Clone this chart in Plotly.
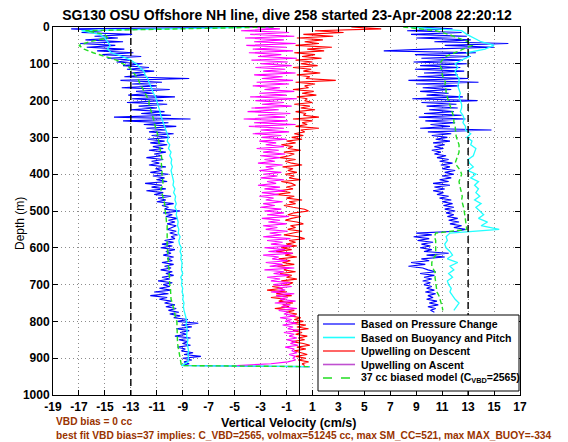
import plotly.graph_objects as go

# ---------------- data ----------------
# descent profiles, 0..920 m
desc_depth_5 = list(range(0, 925, 5))
desc_depth_10 = list(range(0, 925, 10))
# ascent profiles, 0..775 m
asc_depth_5 = list(range(0, 780, 5))
asc_depth_10 = list(range(0, 780, 10))

bottom_depth = 923
bottom_speed = 0.8

blue_desc = [
    -2.0, -17.6, -15.2, -16.8, -12.9, -15.8, -14.0, -16.5, -13.6, -16.9,
    -14.2, -16.4, -13.5, -15.6, -12.8, -15.2, -12.2, -14.8, -13.0, -14.1,
    -12.1, -13.6, -11.6, -13.3, -11.2, -13.0, -11.9, -13.5, -8.5, -13.8,
    -10.6, -12.9, -11.0, -13.7, -10.0, -12.6, -11.3, -13.2, -9.6, -12.9,
    -10.5, -13.3, -10.2, -12.4, -11.0, -13.0, -10.4, -12.2, -9.9, -14.3,
    -8.4, -13.6, -10.1, -12.0, -9.5, -11.8, -10.3, -11.6, -9.7, -11.4,
    -10.0, -11.7, -10.4, -11.5, -10.2, -11.3, -10.5, -11.6, -10.3, -11.2,
    -10.6, -11.8, -10.5, -11.4, -10.8, -11.6, -10.3, -11.1, -10.6, -11.5,
    -10.1, -11.3, -10.4, -11.0, -10.2, -11.9, -10.6, -11.4, -10.3, -11.8,
    -10.5, -11.2, -9.9, -10.9, -10.3, -11.0, -9.7, -10.6, -10.1, -10.4,
    -9.2, -10.5, -9.8, -10.3, -9.4, -10.1, -9.6, -10.2, -9.5, -9.9,
    -10.2, -9.5, -10.0, -9.4, -9.9, -9.6, -10.4, -9.7, -10.6, -9.8,
    -10.7, -9.6, -10.3, -9.9, -10.5, -9.7, -10.2, -9.8, -10.6, -9.7,
    -10.4, -9.9, -10.7, -9.8, -10.3, -9.7, -10.6, -10.0, -10.9, -9.8,
    -10.5, -10.0, -10.8, -9.9, -11.2, -10.1, -11.5, -10.2, -10.8, -9.9,
    -10.4, -9.6, -10.3, -9.5, -10.1, -9.3, -10.0, -9.2, -9.7, -8.6,
    -9.4, -7.8, -9.1, -8.3, -9.5, -8.5, -9.2, -8.7, -9.6, -8.4,
    -9.3, -8.6, -9.0, -8.4, -9.4, -8.8, -9.1, -8.2, -8.9, -7.6,
    -9.0, -8.3, -8.9, -8.5, -9.1,
]

cyan_desc = [
    -3.0, -16.8, -15.4, -15.0, -14.8, -14.6, -14.8, -14.5, -13.7, -13.0,
    -12.6, -12.3, -12.0, -11.9, -11.7, -11.6, -11.5, -11.35, -11.25, -11.1,
    -11.0, -10.9, -10.8, -10.75, -10.7, -10.6, -10.5, -10.45, -10.3, -10.2,
    -10.1, -10.2, -10.0, -10.1, -9.9, -10.0, -9.85, -9.9, -9.8, -9.9,
    -9.85, -9.8, -9.7, -9.75, -9.6, -9.7, -9.55, -9.6, -9.5, -9.6,
    -9.45, -9.5, -9.4, -9.35, -9.4, -9.3, -9.35, -9.2, -9.3, -9.25,
    -9.1, -9.2, -9.1, -9.15, -9.05, -9.1, -9.1, -9.0, -9.15, -9.05,
    -9.1, -9.0, -9.05, -8.95, -9.0, -8.9, -8.95, -8.9, -8.8, -8.75,
    -8.7, -8.75, -8.65, -8.7, -8.7, -8.6, -8.65, -8.6, -8.55, -8.6,
    -8.55, -8.6, -9.1,
]

green_desc = [
    -2.0, -16.5, -15.0, -14.8, -16.2, -17.0, -16.6, -15.9, -15.0, -14.1,
    -13.6, -13.1, -12.9, -12.7, -12.45, -12.35, -12.2, -12.0, -11.9, -11.7,
    -11.6, -11.6, -11.5, -11.45, -11.35, -11.25, -11.2, -11.1, -11.0, -10.95,
    -10.9, -10.85, -10.8, -10.75, -10.7, -10.65, -10.6, -10.65, -10.6, -10.6,
    -10.6, -10.55, -10.5, -10.5, -10.7, -10.6, -10.5, -10.45, -10.4, -10.4,
    -10.35, -10.3, -10.3, -10.25, -10.2, -10.2, -10.2, -10.25, -10.2, -10.2,
    -10.2, -10.15, -10.15, -10.1, -10.1, -10.1, -10.05, -10.05, -10.0, -10.0,
    -10.0, -9.95, -9.95, -9.9, -9.9, -9.8, -9.75, -9.7, -9.65, -9.55,
    -9.45, -9.45, -9.45, -9.4, -9.45, -9.45, -9.4, -9.35, -9.3, -9.2,
    -9.2, -9.15, -9.1,
]

blue_asc = [
    9.0, 11.8, 8.3, 12.5, 8.6, 12.9, 9.0, 13.2, 10.4, 16.1,
    11.2, 15.0, 9.8, 6.5, 13.6, 8.9, 13.2, 9.4, 12.6, 8.8,
    12.9, 9.3, 12.4, 8.9, 12.7, 9.6, 12.2, 9.1, 13.0, 8.4,
    13.8, 9.0, 12.3, 9.5, 11.7, 9.3, 11.5, 9.8, 12.6, 8.7,
    13.7, 9.4, 12.1, 9.8, 12.2, 10.0, 11.9, 9.6, 12.5, 9.2,
    12.8, 9.7, 12.0, 10.1, 11.6, 9.3, 14.8, 9.9, 11.7, 10.2,
    11.4, 10.5, 11.6, 10.3, 11.2, 10.4, 11.1, 10.2, 10.9, 10.4,
    11.3, 10.6, 11.5, 10.8, 11.8, 10.9, 11.6, 11.0, 12.0, 11.2,
    11.9, 11.0, 11.7, 10.8, 11.5, 10.3, 11.6, 10.4, 11.2, 10.3,
    11.1, 10.6, 11.5, 10.8, 11.7, 11.0, 11.8, 11.1, 11.9, 11.2,
    12.0, 11.3, 11.9, 11.4, 12.2, 11.5, 12.3, 11.6, 12.5, 11.9,
    12.8, 12.1, 9.0, 10.2, 8.8, 10.0, 9.1, 10.3, 9.4, 10.1,
    9.3, 10.2, 9.6, 11.5, 9.8, 11.2, 9.4, 10.0, 8.6, 9.7,
    8.4, 9.5, 9.9, 10.5, 9.3, 10.4, 9.6, 10.2, 9.5, 10.1,
    9.6, 10.2, 9.8, 10.4, 9.7, 10.5, 9.9, 10.3, 9.8, 10.6,
    10.0, 10.7, 9.9, 10.5, 10.1, 10.4,
]

cyan_asc = [
    8.5, 12.5, 12.9, 13.5, 14.0, 15.0, 14.3, 12.9, 13.1, 12.5,
    12.0, 12.2, 12.0, 12.1, 12.3, 12.3, 12.2, 12.3, 12.4, 12.3,
    12.4, 12.5, 12.5, 12.4, 12.6, 12.7, 12.6, 12.8, 12.8, 13.2,
    12.9, 13.3, 13.2, 13.6, 13.5, 13.4, 13.0, 13.1, 13.4, 13.0,
    13.6, 13.2, 13.8, 13.5, 13.8, 13.6, 13.9, 13.5, 14.0, 13.6,
    13.9, 14.2, 13.8, 14.5, 14.0, 15.4, 11.6, 11.3, 11.4, 11.2,
    11.3, 11.6, 11.8, 11.4, 12.2, 11.6, 11.9, 11.5, 11.8, 11.4,
    11.5, 11.7, 11.6, 11.8, 12.0, 12.3, 12.1, 11.9,
]

green_asc = [
    8.0, 10.5, 11.5, 12.3, 13.0, 13.3, 12.6, 12.0, 11.3, 11.0,
    10.8, 10.9, 11.0, 11.0, 11.1, 11.25, 11.2, 11.3, 11.3, 11.4,
    11.5, 11.55, 11.7, 11.8, 11.85, 11.9, 11.9, 12.0, 12.0, 12.05,
    12.1, 12.2, 12.3, 12.3, 12.3, 12.2, 12.1, 12.0, 12.2, 12.4,
    12.5, 12.4, 12.3, 12.35, 12.4, 12.5, 12.55, 12.5, 12.6, 12.65,
    12.7, 12.75, 12.8, 12.8, 12.85, 12.9, 10.5, 10.4, 10.5, 10.5,
    10.5, 10.45, 10.5, 10.3, 10.2, 10.2, 10.35, 10.5, 10.45, 10.5,
    10.5, 10.55, 10.6, 10.75, 10.85, 10.95, 11.0, 11.05,
]

red_upwelling = [
    4.0, 6.3, 1.2, 3.4, 0.3, 2.6, -0.2, 1.8, 0.4, 1.5,
    -0.3, 2.5, 0.6, 1.9, -0.4, 1.2, 0.2, 1.7, -0.3, 1.0,
    0.1, 1.4, -0.5, 0.9, 0.3, 1.6, -0.2, 0.8, 0.5, 2.8,
    -0.3, 1.2, 0.4, 0.7, -0.5, 1.1, 0.2, 1.3, -0.2, 0.6,
    0.4, 1.0, -0.4, 0.8, 0.1, 1.2, -0.3, 0.5, 0.3, 1.5,
    -0.5, 1.0, 0.2, 0.6, -0.3, 1.5, 0.1, 0.4, -0.4, 0.3,
    -0.6, 0.2, -1.0, -0.3, -1.4, -0.5, -0.9, 0.1, -1.2, -0.4,
    -0.8, -1.5, -0.3, -1.1, -0.6, 0.2, -1.3, -0.5, -0.9, -0.2,
    -1.1, -0.4, -0.8, 0.1, -1.4, -0.6, -0.3, -1.0, -0.5, -1.6,
    -0.7, -1.9, -0.4, -1.0, 0.2, -0.8, -0.3, -1.2, -0.5, 0.4,
    0.7, -0.4, -0.9, 0.1, -0.6, -1.1, -0.2, 0.3, -0.7, -0.3,
    -0.9, 0.2, -0.5, -1.2, -0.1, 0.4, -0.8, -0.3, -1.0, -0.2,
    -1.4, -0.6, -1.8, -0.5, -1.1, -0.2, -1.6, -0.7, -1.3, -0.4,
    -1.7, -0.8, -1.2, -0.3, -1.5, -0.6, -1.0, -0.2, -1.4, -0.5,
    -0.9, -2.1, -1.3, -2.5, -1.0, -1.8, -0.6, -2.2, -1.1, -1.6,
    -0.5, -1.3, -0.8, -1.9, -0.4, -1.0, -0.2, -0.7, 0.1, -0.4,
    0.3, -0.6, 0.5, -0.2, 0.7, -0.5, 0.2, -0.3, 0.6, -0.1,
    0.4, -0.6, 0.3, 0.8, -0.2, 0.5, -0.4, 0.2, 0.6, -0.3,
    0.5, -0.1, 0.7, 0.2, 0.4,
]

magenta_upwelling = [
    -4.0, -1.5, -4.5, -0.8, -3.8, -0.4, -4.2, -1.2, -3.5, -0.3,
    -4.1, -1.0, -3.6, -0.5, -3.9, -1.4, -3.2, -0.2, -3.7, -0.9,
    -3.0, -0.6, -3.4, -1.1, -2.8, -0.3, -3.5, -1.3, -2.9, -0.5,
    -3.3, -0.8, -3.6, -1.5, -2.7, -0.4, -3.1, -1.0, -3.8, -0.2,
    -3.4, -1.2, -2.9, -0.6, -3.7, -1.6, -4.0, -0.7, -3.2, -1.1,
    -4.3, -0.9, -3.5, -0.3, -3.9, -1.2, -3.0, -0.8, -3.6, -1.4,
    -2.9, -1.0, -3.1, -1.8, -2.6, -1.2, -3.3, -1.6, -2.8, -1.1,
    -3.0, -1.5, -2.7, -1.9, -3.2, -1.3, -2.6, -2.0, -3.1, -1.4,
    -2.8, -1.7, -3.0, -1.2, -2.5, -1.8, -3.2, -1.5, -2.7, -1.1,
    -2.9, -1.6, -3.1, -2.0, -2.6, -1.3, -2.8, -1.9, -3.0, -1.4,
    -2.7, -1.2, -2.5, -0.8, -2.9, -1.5, -2.4, -1.0, -2.8, -1.7,
    -2.6, -0.9, -2.3, -1.4, -2.8, -0.7, -2.5, -1.3, -2.2, -0.6,
    -2.7, -1.1, -2.4, -0.5, -2.8, -1.6, -2.1, -0.9, -2.6, -1.3,
    -2.3, -0.4, -2.7, -1.2, -2.0, -0.8, -2.5, -1.5, -2.2, -0.7,
    -2.0, -0.6, -1.7, -1.1, -2.2, -0.4, -1.8, -0.9, -1.5, -0.3,
    -1.9, -0.7, -1.4, -0.2, -1.6, -0.8, -1.2, -0.3, -1.5, -0.6,
    -1.1, -0.2, -1.3, -0.5, -0.9, -0.1, -1.2, -0.4, -0.8, -0.2,
    -1.0, -0.3, -0.7, -0.1, -1.1, -0.4, -0.6, -0.2, -0.8, -0.3,
    -0.5, -0.3, -0.9, -2.2, -4.8,
]

limit_speeds = [-13, 13]
zero_speed = 0

x_tick_values = list(range(-19, 18, 2))
x_tick_labels = [str(v) for v in x_tick_values]
y_tick_values = list(range(0, 1001, 100))

title_text = "SG130 OSU Offshore NH line, dive 258 started 23-Apr-2008 22:20:12"
x_title = "Vertical Velocity (cm/s)"
y_title = "Depth (m)"
legend_labels = [
    "Based on Pressure Change",
    "Based on Buoyancy and Pitch",
    "Upwelling on Descent",
    "Upwelling on Ascent",
    "37 cc biased model (C<sub>VBD</sub>=2565)",
]
note_line1 = "VBD bias = 0 cc"
note_line2 = ("best fit VBD bias=37 implies: C_VBD=2565, volmax=51245 cc, "
              "max SM_CC=521, max MAX_BUOY=-334")

assert len(blue_desc) == len(desc_depth_5)
assert len(cyan_desc) == len(desc_depth_10)
assert len(green_desc) == len(desc_depth_10)
assert len(blue_asc) == len(asc_depth_5)
assert len(cyan_asc) == len(asc_depth_10)
assert len(green_asc) == len(asc_depth_10)
assert len(red_upwelling) == len(desc_depth_5)
assert len(magenta_upwelling) == len(desc_depth_5)

# ---------------- styles / geometry ----------------
FONT = "Liberation Sans, Arial, Helvetica, sans-serif"
C_BLUE = "#0000ff"
C_CYAN = "#22ffff"
C_RED = "#ff0000"
C_MAG = "#ff00ff"
C_GREEN = "#22dd22"
BROWN = "#993300"

# the page body has an 8px margin, so the figure is drawn 8px smaller
OFF = 8
W, H = 568 - OFF, 442 - OFF
L, R, T, B = 53 - OFF, 48, 27 - OFF, 47
PW, PH = W - L - R, H - T - B


def sx(xs):
    """screen x (px) -> paper x"""
    return (xs - OFF - L) / PW


def sy(ys):
    """screen y (px) -> paper y"""
    return (H - B - (ys - OFF)) / PH


def profile(desc_v, desc_d, asc_v, asc_d):
    xs = list(desc_v) + [bottom_speed, None] + list(asc_v)
    ys = list(desc_d) + [bottom_depth, None] + list(asc_d)
    return xs, ys


fig = go.Figure()

bx, by = profile(blue_desc, desc_depth_5, blue_asc, asc_depth_5)
fig.add_trace(go.Scatter(x=bx, y=by, mode="lines", name=legend_labels[0],
                         line=dict(color=C_BLUE, width=1.1)))
cx, cy = profile(cyan_desc, desc_depth_10, cyan_asc, asc_depth_10)
fig.add_trace(go.Scatter(x=cx, y=cy, mode="lines", name=legend_labels[1],
                         line=dict(color=C_CYAN, width=1.3)))
fig.add_trace(go.Scatter(x=red_upwelling, y=desc_depth_5, mode="lines",
                         name=legend_labels[2],
                         line=dict(color=C_RED, width=1.1)))
fig.add_trace(go.Scatter(x=magenta_upwelling, y=desc_depth_5, mode="lines",
                         name=legend_labels[3],
                         line=dict(color=C_MAG, width=1.1)))
gx, gy = profile(green_desc, desc_depth_10, green_asc, asc_depth_10)
fig.add_trace(go.Scatter(x=gx, y=gy, mode="lines", name=legend_labels[4],
                         line=dict(color=C_GREEN, width=1.4, dash="5px,3px")))

# reference lines
lx, ly = [], []
for s in limit_speeds:
    lx += [s, s, None]
    ly += [0, 1000, None]
fig.add_trace(go.Scatter(x=lx, y=ly, mode="lines", showlegend=False,
                         line=dict(color="black", width=1.4, dash="7px,4px")))
fig.add_trace(go.Scatter(x=[zero_speed, zero_speed], y=[0, 1000], mode="lines",
                         showlegend=False, line=dict(color="black", width=1)))

# ---------------- compact legend box (MATLAB style) ----------------
box_l, box_r, box_t, box_b = 318, 519, 315, 391
shapes = [dict(type="rect", xref="paper", yref="paper",
               x0=sx(box_l), x1=sx(box_r), y0=sy(box_b), y1=sy(box_t),
               line=dict(color="black", width=1), fillcolor="white", layer="above")]
row_y = [324, 337.5, 351, 364.5, 378]
styles = [(C_BLUE, False, 1.2), (C_CYAN, False, 1.6), (C_RED, False, 1.2),
          ("#c050d0", False, 1.6), (C_GREEN, True, 1.6)]
annotations = []
for i, lab in enumerate(legend_labels):
    col, dashed, wdt = styles[i]
    ln = dict(color=col, width=wdt)
    if dashed:
        ln["dash"] = "dash"
    shapes.append(dict(type="line", xref="paper", yref="paper",
                       x0=sx(323), x1=sx(355), y0=sy(row_y[i]), y1=sy(row_y[i]),
                       line=ln, layer="above"))
    annotations.append(dict(text=lab, xref="paper", yref="paper",
                            x=sx(359), y=sy(row_y[i]), xanchor="left",
                            yanchor="middle", showarrow=False,
                            font=dict(family=FONT, size=10.5, color="black",
                                      weight="bold")))

# axis titles and notes
annotations.append(dict(text=x_title, xref="paper", yref="paper",
                        x=sx(289), y=sy(423), xanchor="center", yanchor="middle",
                        showarrow=False,
                        font=dict(family=FONT, size=12.5, color="black",
                                  weight="bold")))
annotations.append(dict(text=y_title, xref="paper", yref="paper",
                        x=sx(20), y=sy(224), xanchor="center", yanchor="middle",
                        textangle=-90, showarrow=False,
                        font=dict(family=FONT, size=12, color="black")))
annotations.append(dict(text=note_line1, xref="paper", yref="paper",
                        x=sx(54), y=sy(421), xanchor="left", yanchor="middle",
                        showarrow=False,
                        font=dict(family=FONT, size=10.2, color=BROWN,
                                  weight="bold")))
annotations.append(dict(text=note_line2, xref="paper", yref="paper",
                        x=sx(54), y=sy(435.5), xanchor="left", yanchor="middle",
                        showarrow=False,
                        font=dict(family=FONT, size=10.2, color=BROWN,
                                  weight="bold")))

axis_common = dict(showline=True, linecolor="black", linewidth=1, mirror="ticks",
                   ticks="inside", ticklen=5, tickcolor="black",
                   showgrid=True, gridcolor="#8c8c8c", griddash="1px,3px",
                   gridwidth=1, zeroline=False,
                   tickfont=dict(family=FONT, size=12, color="black", weight="bold"))

fig.update_layout(
    width=W, height=H,
    margin=dict(l=L, r=R, t=T, b=B, autoexpand=False),
    paper_bgcolor="white", plot_bgcolor="white",
    showlegend=False,
    title=dict(text=title_text, x=(287 - OFF) / W, xref="container",
               y=1 - (15 - OFF) / H, yref="container", xanchor="center",
               yanchor="middle",
               font=dict(family=FONT, size=14, color="black", weight="bold")),
    xaxis=dict(range=[-19, 17], tickvals=x_tick_values, ticktext=x_tick_labels,
               ticklabelstandoff=1, **axis_common),
    yaxis=dict(range=[1000, 0], tickvals=y_tick_values, **axis_common),
    shapes=shapes,
    annotations=annotations,
)

fig.write_html("out.html")
